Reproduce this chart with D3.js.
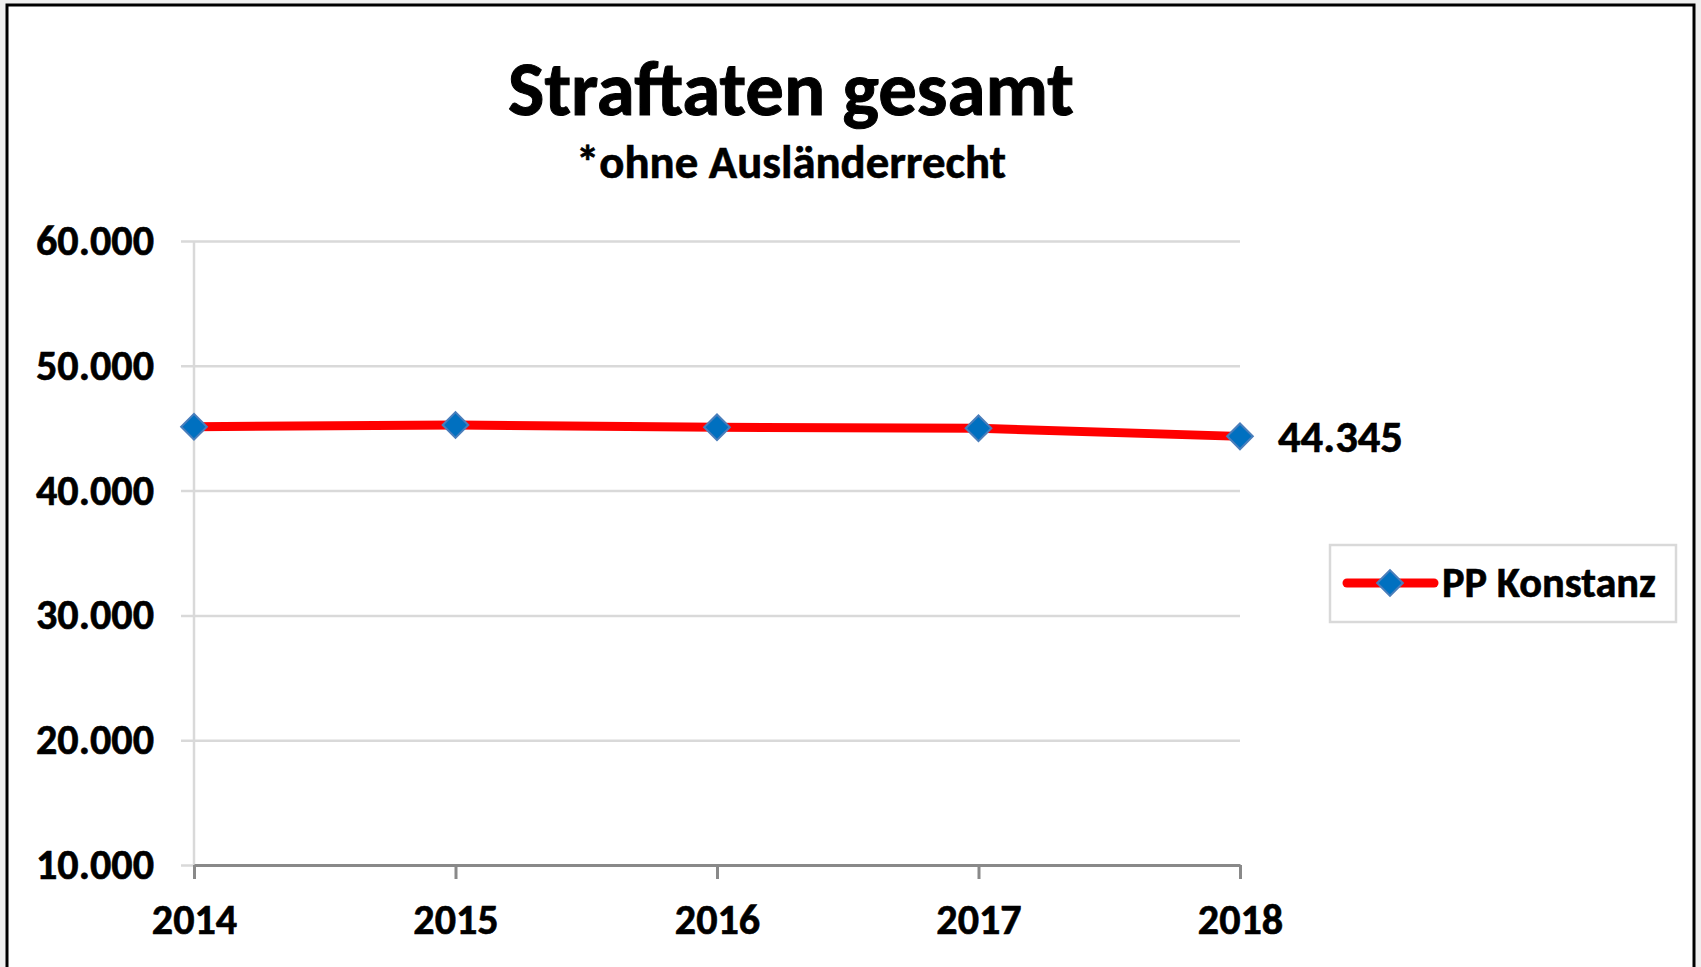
<!DOCTYPE html>
<html>
<head>
<meta charset="utf-8">
<script src="https://cdn.jsdelivr.net/npm/d3@7"></script>
<style>
  html, body { margin: 0; padding: 0; background: #f0f0f0; }
  svg { display: block; }
  text { font-family: Carlito, Calibri, Lato, sans-serif; font-weight: bold; fill: #000; stroke: #000; stroke-width: 0.6px; }
</style>
</head>
<body>
<div id="chart"></div>
<script>
// data
const years = ["2014", "2015", "2016", "2017", "2018"];
const values = [45120, 45260, 45070, 44990, 44345];
const yTicks = [10000, 20000, 30000, 40000, 50000, 60000];
const seriesName = "PP Konstanz";
const titleText = "Straftaten gesamt";
const subtitleText = "*ohne Ausländerrecht";

let w = 1701;
let h = 967;

let de = d3.formatLocale({ decimal: ",", thousands: ".", grouping: [3], currency: ["", " €"] });
let fmt = de.format(",d");

let svg = d3.select("#chart")
    .append("svg")
    .attr("width", w)
    .attr("height", h);

// font size that makes a string as wide as in the reference
let fitSize = (str, target, base) => {
    let t = svg.append("text").attr("font-size", base).text(str);
    let len = t.node().getComputedTextLength();
    t.remove();
    return base * target / len;
}

// frame
svg.append("rect")
    .attr("x", 7).attr("y", 5)
    .attr("width", 1687).attr("height", 1000)
    .attr("fill", "#fff")
    .attr("stroke", "#000")
    .attr("stroke-width", 3);

let x = d3.scalePoint()
    .domain(years)
    .range([194, 1240]);

let y = d3.scaleLinear()
    .domain([10000, 60000])
    .range([865, 241]);

// titles
svg.append("text")
    .attr("x", 791).attr("y", 115)
    .attr("text-anchor", "middle")
    .attr("font-size", fitSize(titleText, 566, 70))
    .style("stroke-width", "1px")
    .text(titleText);

svg.append("text")
    .attr("x", 791).attr("y", 178)
    .attr("text-anchor", "middle")
    .attr("font-size", fitSize(subtitleText, 430, 40))
    .text(subtitleText);

let labelSize = fitSize("60.000", 118, 40);

// y gridlines + labels
let yAxis = d3.axisLeft(y)
    .tickValues(yTicks)
    .tickFormat(fmt)
    .tickSize(-(1240 - 181))
    .tickPadding(27);

let gy = svg.append("g")
    .attr("transform", "translate(181,0)")
    .call(yAxis);
gy.attr("font-family", null).attr("font-size", null);
gy.select(".domain").remove();
gy.selectAll("line").attr("stroke", "#d9d9d9").attr("stroke-width", 2.5);
gy.selectAll("text")
    .attr("font-size", labelSize)
    .attr("dy", "0.32em");

// y axis line
svg.append("line")
    .attr("x1", x(years[0])).attr("x2", x(years[0]))
    .attr("y1", y(60000)).attr("y2", y(10000))
    .attr("stroke", "#d9d9d9")
    .attr("stroke-width", 2.5);

// x axis
let xAxis = d3.axisBottom(x)
    .tickSize(14)
    .tickPadding(25)
    .tickSizeOuter(0);

let gx = svg.append("g")
    .attr("transform", "translate(0," + y(10000) + ")")
    .call(xAxis);
gx.attr("font-family", null).attr("font-size", null);
gx.select(".domain").attr("stroke", "#898989").attr("stroke-width", 3);
gx.selectAll("line").attr("stroke", "#898989").attr("stroke-width", 3);
gx.selectAll("text").attr("font-size", labelSize);

// series line
let line = d3.line()
    .x((d, i) => x(years[i]))
    .y((d) => y(d));

svg.append("path")
    .datum(values)
    .attr("d", line)
    .attr("fill", "none")
    .attr("stroke", "#ff0000")
    .attr("stroke-width", 9)
    .attr("stroke-linejoin", "round")
    .attr("stroke-linecap", "round");

let diamond = d3.symbol().type(d3.symbolSquare).size(330);

svg.selectAll(".marker")
    .data(values)
    .enter()
    .append("path")
    .attr("class", "marker")
    .attr("d", diamond)
    .attr("transform", (d, i) => "translate(" + x(years[i]) + "," + y(d) + ") rotate(45)")
    .attr("fill", "#0070c0")
    .attr("stroke", "#4a7ebb")
    .attr("stroke-width", 2);

// label of last point
let last = values.length - 1;
svg.append("text")
    .attr("x", x(years[last]) + 38)
    .attr("y", y(values[last]))
    .attr("dy", "0.34em")
    .attr("font-size", fitSize(fmt(values[last]), 125, 40))
    .text(fmt(values[last]));

// legend
let lg = svg.append("g").attr("transform", "translate(1330,545)");
lg.append("rect")
    .attr("width", 346).attr("height", 77)
    .attr("fill", "#fff")
    .attr("stroke", "#d9d9d9")
    .attr("stroke-width", 2.5);
lg.append("line")
    .attr("x1", 17).attr("x2", 104)
    .attr("y1", 38).attr("y2", 38)
    .attr("stroke", "#ff0000")
    .attr("stroke-width", 9)
    .attr("stroke-linecap", "round");
lg.append("path")
    .attr("d", diamond)
    .attr("transform", "translate(60,38) rotate(45)")
    .attr("fill", "#0070c0")
    .attr("stroke", "#4a7ebb")
    .attr("stroke-width", 2);
lg.append("text")
    .attr("x", 112).attr("y", 38)
    .attr("dy", "0.34em")
    .attr("font-size", fitSize(seriesName, 214, 40))
    .text(seriesName);
</script>
</body>
</html>
